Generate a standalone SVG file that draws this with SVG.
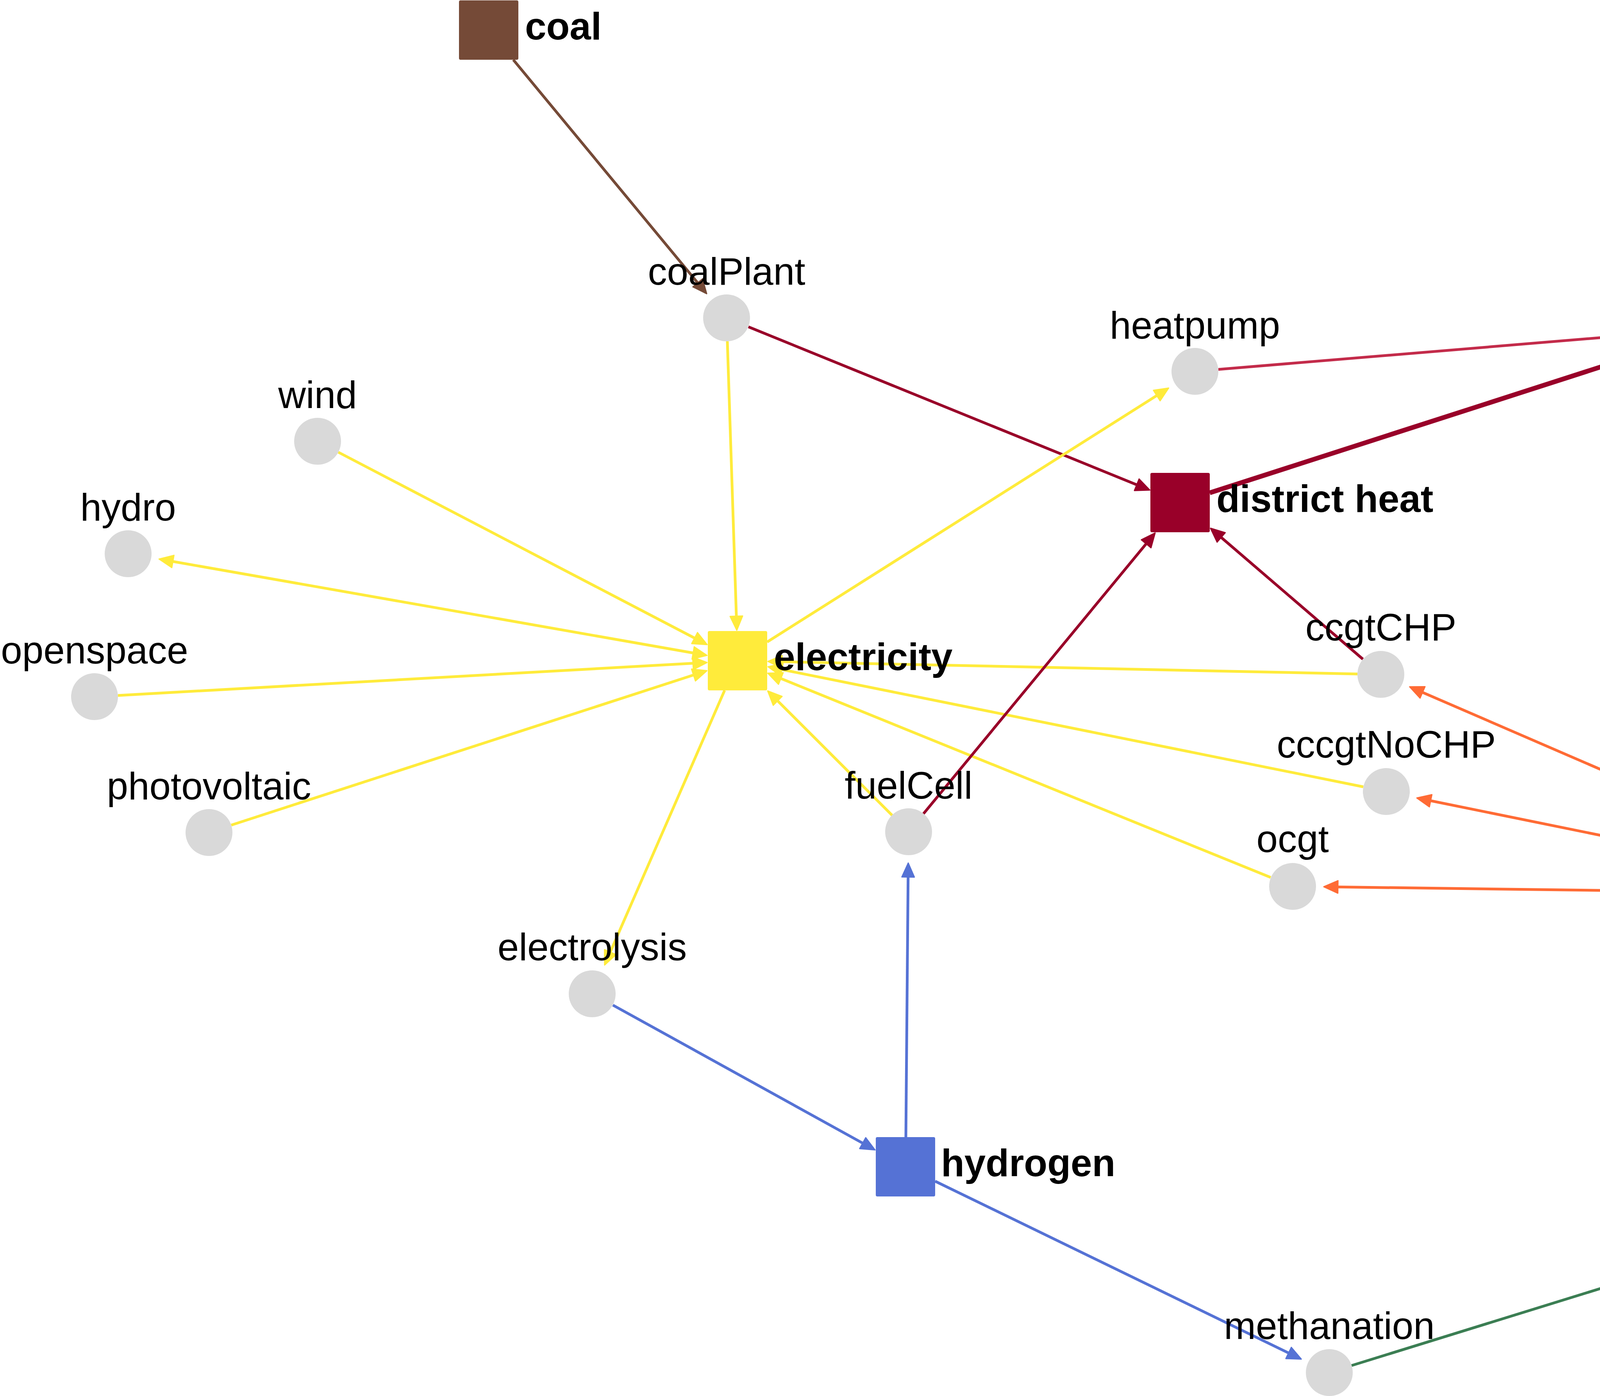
<svg xmlns="http://www.w3.org/2000/svg" width="6686" height="3575" viewBox="0 0 6686 3575">
<style>
.e{fill:none;stroke-width:7;stroke-linecap:butt}
.t{stroke-width:12}
.c{fill:#d9d9d9}
.lbl{font-family:"Liberation Sans",Arial,Helvetica,sans-serif;font-size:98px;fill:#000}
.n{text-anchor:middle}
.b{font-weight:bold}
.coal{stroke:#754a37}.elec{stroke:#ffeb3b}.dh{stroke:#990029}.heat{stroke:#c32b4a}.gas{stroke:#ff6b35}.ng{stroke:#ff834f}.sg{stroke:#3b7e53}.h2{stroke:#5572d5}
</style>
<defs>
<marker id="aCoal" markerUnits="userSpaceOnUse" viewBox="0 0 40 36" markerWidth="40" markerHeight="36" refX="30" refY="18" orient="auto-start-reverse"><path d="M2,2 L38,18 L2,34 z" fill="#754a37" stroke="#754a37" stroke-width="3" stroke-linejoin="round"/></marker>
<marker id="aElec" markerUnits="userSpaceOnUse" viewBox="0 0 40 36" markerWidth="40" markerHeight="36" refX="30" refY="18" orient="auto-start-reverse"><path d="M2,2 L38,18 L2,34 z" fill="#ffeb3b" stroke="#ffeb3b" stroke-width="3" stroke-linejoin="round"/></marker>
<marker id="aDh" markerUnits="userSpaceOnUse" viewBox="0 0 40 36" markerWidth="40" markerHeight="36" refX="30" refY="18" orient="auto-start-reverse"><path d="M2,2 L38,18 L2,34 z" fill="#990029" stroke="#990029" stroke-width="3" stroke-linejoin="round"/></marker>
<marker id="aHeat" markerUnits="userSpaceOnUse" viewBox="0 0 40 36" markerWidth="40" markerHeight="36" refX="30" refY="18" orient="auto-start-reverse"><path d="M2,2 L38,18 L2,34 z" fill="#c32b4a" stroke="#c32b4a" stroke-width="3" stroke-linejoin="round"/></marker>
<marker id="aGas" markerUnits="userSpaceOnUse" viewBox="0 0 40 36" markerWidth="40" markerHeight="36" refX="30" refY="18" orient="auto-start-reverse"><path d="M2,2 L38,18 L2,34 z" fill="#ff6b35" stroke="#ff6b35" stroke-width="3" stroke-linejoin="round"/></marker>
<marker id="aSg" markerUnits="userSpaceOnUse" viewBox="0 0 40 36" markerWidth="40" markerHeight="36" refX="30" refY="18" orient="auto-start-reverse"><path d="M2,2 L38,18 L2,34 z" fill="#3b7e53" stroke="#3b7e53" stroke-width="3" stroke-linejoin="round"/></marker>
<marker id="aH2" markerUnits="userSpaceOnUse" viewBox="0 0 40 36" markerWidth="40" markerHeight="36" refX="30" refY="18" orient="auto-start-reverse"><path d="M2,2 L38,18 L2,34 z" fill="#5572d5" stroke="#5572d5" stroke-width="3" stroke-linejoin="round"/></marker>
<marker id="tDh" markerUnits="userSpaceOnUse" viewBox="0 0 62 62" markerWidth="62" markerHeight="62" refX="42" refY="31" orient="auto"><path d="M3,3 L59,31 L3,59 z" fill="#990029" stroke="#990029" stroke-width="5" stroke-linejoin="round"/></marker>
<marker id="tNg" markerUnits="userSpaceOnUse" viewBox="0 0 62 62" markerWidth="62" markerHeight="62" refX="42" refY="31" orient="auto"><path d="M3,3 L59,31 L3,59 z" fill="#ff834f" stroke="#ff834f" stroke-width="5" stroke-linejoin="round"/></marker>
<marker id="tSg" markerUnits="userSpaceOnUse" viewBox="0 0 62 62" markerWidth="62" markerHeight="62" refX="42" refY="31" orient="auto"><path d="M3,3 L59,31 L3,59 z" fill="#3b7e53" stroke="#3b7e53" stroke-width="5" stroke-linejoin="round"/></marker>
</defs>
<rect width="6686" height="3575" fill="#fff"/>
<g id="connectors">
<path class="e coal" d="M1314,153 L1804,746" marker-end="url(#aCoal)"/>
<path class="e elec" d="M1862,874 L1886,1606" marker-end="url(#aElec)"/>
<path class="e dh" d="M1916,837 L2936,1252" marker-end="url(#aDh)"/>
<path class="e elec" d="M866,1158 L1803,1647" marker-end="url(#aElec)"/>
<path class="e elec" d="M1802,1677 L415,1433" marker-start="url(#aElec)" marker-end="url(#aElec)"/>
<path class="e elec" d="M302,1781 L1802,1697" marker-end="url(#aElec)"/>
<path class="e elec" d="M592,2113 L1802,1720" marker-end="url(#aElec)"/>
<path class="e elec" d="M1964,1644 L2985,998" marker-end="url(#aElec)"/>
<path class="e elec" d="M1855,1768 L1551,2464" marker-end="url(#aElec)"/>
<path class="e elec" d="M2284,2088 L1971,1775" marker-end="url(#aElec)"/>
<path class="e elec" d="M3475,1726 L1974,1694" marker-end="url(#aElec)"/>
<path class="e elec" d="M3490,2015 L1974,1709" marker-end="url(#aElec)"/>
<path class="e elec" d="M3253,2247 L1973,1727" marker-end="url(#aElec)"/>
<path class="e dh" d="M2364,2084 L2952,1371" marker-end="url(#aDh)"/>
<path class="e dh" d="M3489,1688 L3105,1358" marker-end="url(#aDh)"/>
<path class="e heat" d="M3119,946 L4323,846" marker-end="url(#aHeat)"/>
<path class="e t dh" d="M3097,1262 L4314,870" marker-end="url(#tDh)"/>
<path class="e heat" d="M5261,244 L4493,780" marker-end="url(#aHeat)"/>
<path class="e heat" d="M5254,1440 L4493,899" marker-end="url(#aHeat)"/>
<path class="e gas" d="M4880,2214 L5259,1552" marker-end="url(#aGas)"/>
<path class="e gas" d="M4760,2257 L3616,1762" marker-end="url(#aGas)"/>
<path class="e gas" d="M4760,2274 L3635,2045" marker-end="url(#aGas)"/>
<path class="e gas" d="M4760,2289 L3397,2271" marker-end="url(#aGas)"/>
<path class="e gas" d="M4922,2292 L6303,2335" marker-start="url(#aGas)" marker-end="url(#aGas)"/>
<path class="e t ng" d="M5989,2751 L4931,2327" marker-end="url(#tNg)"/>
<path class="e t sg" d="M4581,3081 L4806,2385" marker-end="url(#tSg)"/>
<path class="e h2" d="M2319,2912 L2325,2218" marker-end="url(#aH2)"/>
<path class="e h2" d="M1569,2574 L2233,2941" marker-end="url(#aH2)"/>
<path class="e h2" d="M2394,3025 L3324,3477" marker-end="url(#aH2)"/>
<path class="e sg" d="M3460,3497 L4471,3184" marker-end="url(#aSg)"/>
</g>
<g id="node-coal"><rect x="1175" y="1" width="152" height="152" rx="4" fill="#754a37"/><text class="lbl b" x="1344" y="101">coal</text></g>
<g id="node-electricity"><rect x="1812" y="1616" width="152" height="152" rx="4" fill="#ffeb3b"/><text class="lbl b" x="1981" y="1716">electricity</text></g>
<g id="node-districtheat"><rect x="2945" y="1211" width="152" height="152" rx="4" fill="#990029"/><text class="lbl b" x="3114" y="1311">district heat</text></g>
<g id="node-heat"><rect x="4333" y="763" width="152" height="152" rx="4" fill="#c32b4a"/><text class="lbl b" x="4502" y="863">heat</text></g>
<g id="node-gas"><rect x="4760" y="2214" width="152" height="152" rx="4" fill="#ff6b35"/><text class="lbl b" x="4929" y="2313">gas</text></g>
<g id="node-naturalgas"><rect x="5989" y="2705" width="152" height="152" rx="4" fill="#ff834f"/><text class="lbl b" x="6158" y="2803">natural gas</text></g>
<g id="node-syntheticgas"><rect x="4481" y="3081" width="152" height="152" rx="4" fill="#3b7e53"/><text class="lbl b" x="4648" y="3180">synthetic gas</text></g>
<g id="node-hydrogen"><rect x="2242" y="2912" width="152" height="152" rx="4" fill="#5572d5"/><text class="lbl b" x="2409" y="3012">hydrogen</text></g>
<g id="node-coalPlant"><circle class="c" cx="1860" cy="814" r="60"/><text class="lbl n" x="1860" y="729">coalPlant</text></g>
<g id="node-solarThermal"><circle class="c" cx="5310" cy="210" r="60"/><text class="lbl n" x="5310" y="124">solarThermal</text></g>
<g id="node-heatpump"><circle class="c" cx="3059" cy="951" r="60"/><text class="lbl n" x="3059" y="867">heatpump</text></g>
<g id="node-wind"><circle class="c" cx="813" cy="1130" r="60"/><text class="lbl n" x="813" y="1045">wind</text></g>
<g id="node-hydro"><circle class="c" cx="328" cy="1418" r="60"/><text class="lbl n" x="328" y="1333">hydro</text></g>
<g id="node-gasBoiler"><circle class="c" cx="5303" cy="1475" r="60"/><text class="lbl n" x="5303" y="1388">gasBoiler</text></g>
<g id="node-openspace"><circle class="c" cx="242" cy="1784" r="60"/><text class="lbl n" x="242" y="1699">openspace</text></g>
<g id="node-ccgtCHP"><circle class="c" cx="3535" cy="1727" r="60"/><text class="lbl n" x="3535" y="1640">ccgtCHP</text></g>
<g id="node-cccgtNoCHP"><circle class="c" cx="3549" cy="2027" r="60"/><text class="lbl n" x="3549" y="1940">cccgtNoCHP</text></g>
<g id="node-photovoltaic"><circle class="c" cx="535" cy="2132" r="60"/><text class="lbl n" x="535" y="2047">photovoltaic</text></g>
<g id="node-fuelCell"><circle class="c" cx="2326" cy="2130" r="60"/><text class="lbl n" x="2326" y="2045">fuelCell</text></g>
<g id="node-ocgt"><circle class="c" cx="3309" cy="2270" r="60"/><text class="lbl n" x="3309" y="2182">ocgt</text></g>
<g id="node-gasStorage"><circle class="c" cx="6391" cy="2337" r="60"/><text class="lbl n" x="6391" y="2250">gasStorage</text></g>
<g id="node-electrolysis"><circle class="c" cx="1516" cy="2545" r="60"/><text class="lbl n" x="1516" y="2459">electrolysis</text></g>
<g id="node-methanation"><circle class="c" cx="3403" cy="3515" r="60"/><text class="lbl n" x="3403" y="3429">methanation</text></g>
</svg>
